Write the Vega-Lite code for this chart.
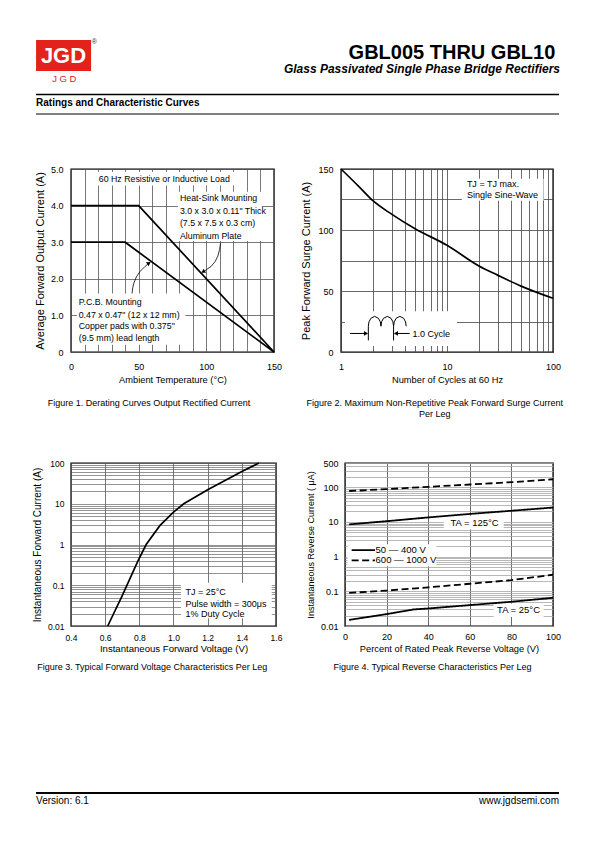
{
  "$schema": "https://vega.github.io/schema/vega-lite/v6.json",
  "background": "white",
  "padding": {"left": 31, "top": 36, "right": 0, "bottom": 0},
  "config": {
    "font": "Liberation Sans",
    "view": {"stroke": "black", "strokeWidth": 1.4},
    "axis": {
      "domain": false, "ticks": false, "tickSize": 0,
      "labelColor": "black", "titleColor": "black", "titleFontWeight": "normal",
      "labelFontSize": 9, "titleFontSize": 9.3,
      "gridColor": "#555555", "gridWidth": 0.8, "gridOpacity": 1,
      "labelFlush": false, "labelOverlap": false, "labelBound": false
    },
    "title": {"color": "black", "fontWeight": "normal", "fontSize": 9}
  },
  "spacing": 30,
  "vconcat": [
    {
      "width": 488, "height": 98,
      "view": {"stroke": null},
      "data": {"values": [{"part": "header"}]},
      "layer": [
        {"mark": {"type": "rect", "color": "#e3231b"}, "encoding": {
          "x": {"datum": 0.2, "type": "quantitative", "scale": {"domain": [0, 100], "range": [-36, 488]}, "axis": null},
          "x2": {"datum": 10.7},
          "y": {"datum": 4.1, "type": "quantitative", "scale": {"domain": [0, 100], "reverse": true}, "axis": null},
          "y2": {"datum": 35.7}}},
        {"data": {"values": [{"t": "JGD"}]}, "mark": {"type": "text", "color": "white", "fontSize": 22, "fontWeight": "bold", "align": "center", "baseline": "middle"}, "encoding": {
          "x": {"datum": 5.44, "type": "quantitative", "scale": {"domain": [0, 100], "range": [-36, 488]}, "axis": null},
          "y": {"datum": 20.4, "type": "quantitative", "scale": {"domain": [0, 100], "reverse": true}, "axis": null},
          "text": {"field": "t"}}},
        {"data": {"values": [{"t": "J   G   D"}]}, "mark": {"type": "text", "color": "#e3231b", "fontSize": 9.5, "align": "center", "baseline": "middle"}, "encoding": {
          "x": {"datum": 5.6, "type": "quantitative", "scale": {"domain": [0, 100], "range": [-36, 488]}, "axis": null},
          "y": {"datum": 43.5, "type": "quantitative", "scale": {"domain": [0, 100], "reverse": true}, "axis": null},
          "text": {"field": "t"}}},
        {"data": {"values": [{"t": "®"}]}, "mark": {"type": "text", "color": "#333333", "fontSize": 7, "align": "center", "baseline": "middle"}, "encoding": {
          "x": {"datum": 11.3, "type": "quantitative", "scale": {"domain": [0, 100], "range": [-36, 488]}, "axis": null},
          "y": {"datum": 6.1, "type": "quantitative", "scale": {"domain": [0, 100], "reverse": true}, "axis": null},
          "text": {"field": "t"}}},
        {"data": {"values": [{"t": "GBL005 THRU GBL10"}]}, "mark": {"type": "text", "color": "black", "fontSize": 20, "fontWeight": "bold", "align": "right", "baseline": "alphabetic"}, "encoding": {
          "x": {"datum": 99.3, "type": "quantitative", "scale": {"domain": [0, 100], "range": [-36, 488]}, "axis": null},
          "y": {"datum": 23.5, "type": "quantitative", "scale": {"domain": [0, 100], "reverse": true}, "axis": null},
          "text": {"field": "t"}}},
        {"data": {"values": [{"t": "Glass Passivated Single Phase Bridge Rectifiers"}]}, "mark": {"type": "text", "color": "black", "fontSize": 12, "fontWeight": "bold", "fontStyle": "italic", "align": "right", "baseline": "alphabetic"}, "encoding": {
          "x": {"datum": 100.2, "type": "quantitative", "scale": {"domain": [0, 100], "range": [-36, 488]}, "axis": null},
          "y": {"datum": 37.8, "type": "quantitative", "scale": {"domain": [0, 100], "reverse": true}, "axis": null},
          "text": {"field": "t"}}},
        {"mark": {"type": "rule", "color": "black", "strokeWidth": 1.5}, "encoding": {
          "x": {"datum": 0.2, "type": "quantitative", "scale": {"domain": [0, 100], "range": [-36, 488]}, "axis": null},
          "x2": {"datum": 100},
          "y": {"datum": 59.7, "type": "quantitative", "scale": {"domain": [0, 100], "reverse": true}, "axis": null}}},
        {"data": {"values": [{"t": "Ratings and Characteristic Curves"}]}, "mark": {"type": "text", "color": "black", "fontSize": 10, "fontWeight": "bold", "align": "left", "baseline": "middle"}, "encoding": {
          "x": {"datum": 0.2, "type": "quantitative", "scale": {"domain": [0, 100], "range": [-36, 488]}, "axis": null},
          "y": {"datum": 68.4, "type": "quantitative", "scale": {"domain": [0, 100], "reverse": true}, "axis": null},
          "text": {"field": "t"}}},
        {"mark": {"type": "rule", "color": "black", "strokeWidth": 1}, "encoding": {
          "x": {"datum": 0.2, "type": "quantitative", "scale": {"domain": [0, 100], "range": [-36, 488]}, "axis": null},
          "x2": {"datum": 100},
          "y": {"datum": 79.6, "type": "quantitative", "scale": {"domain": [0, 100], "reverse": true}, "axis": null}}}
      ]
    },
    {
      "spacing": 38,
      "vconcat": [
        {
          "spacing": 17,
          "hconcat": [
            {
              "width": 203, "height": 183,
              "title": {"text": "Figure 1. Derating Curves Output Rectified Current", "orient": "bottom", "anchor": "middle", "frame": "bounds", "offset": 15, "dx": -9},
              "encoding": {
                "x": {"field": "x", "type": "quantitative", "scale": {"domain": [0, 150], "nice": false, "zero": false},
                  "axis": {"title": "Ambient Temperature (°C)", "values": [0, 10, 20, 30, 40, 50, 60, 70, 80, 90, 100, 110, 120, 130, 140, 150], "labelExpr": "datum.value % 50 == 0 ? datum.label : ''", "labelPadding": 10, "titlePadding": 4}},
                "y": {"field": "y", "type": "quantitative", "scale": {"domain": [0, 5], "nice": false},
                  "axis": {"title": "Average Forward Output Current (A)", "values": [0, 1, 2, 3, 4, 5], "labelExpr": "datum.value == 0 ? '0' : format(datum.value, '.1f')", "labelPadding": 8, "titlePadding": 5, "titleFontSize": 11}}
              },
              "layer": [
                {"data": {"values": [
                  {"x": 19, "x2": 121, "y": 4.55, "y2": 4.92},
                  {"x": 79, "x2": 141, "y": 3.03, "y2": 4.38},
                  {"x": 4.4, "x2": 84.5, "y": 0.2, "y2": 1.6}]},
                  "mark": {"type": "rect", "color": "white"},
                  "encoding": {"x2": {"field": "x2"}, "y2": {"field": "y2"}}},
                {"data": {"values": [
                  {"s": "Heat-Sink", "x": 0, "y": 4.0}, {"s": "Heat-Sink", "x": 50, "y": 4.0}, {"s": "Heat-Sink", "x": 150, "y": 0},
                  {"s": "P.C.B.", "x": 0, "y": 3.0}, {"s": "P.C.B.", "x": 40, "y": 3.0}, {"s": "P.C.B.", "x": 150, "y": 0}]},
                  "mark": {"type": "line", "color": "black", "strokeWidth": 1.7},
                  "encoding": {"detail": {"field": "s"}}},
                {"data": {"values": [
                  {"s": "hs", "i": 0, "x": 110.5, "y": 2.97}, {"s": "hs", "i": 1, "x": 109.8, "y": 2.8}, {"s": "hs", "i": 2, "x": 108.5, "y": 2.62},
                  {"s": "hs", "i": 3, "x": 106.5, "y": 2.47}, {"s": "hs", "i": 4, "x": 103.5, "y": 2.34}, {"s": "hs", "i": 5, "x": 100.5, "y": 2.26},
                  {"s": "hs", "i": 6, "x": 98.5, "y": 2.21},
                  {"s": "pcb", "i": 0, "x": 45.1, "y": 1.6}, {"s": "pcb", "i": 1, "x": 45.6, "y": 1.75}, {"s": "pcb", "i": 2, "x": 46.6, "y": 1.9},
                  {"s": "pcb", "i": 3, "x": 48.3, "y": 2.05}, {"s": "pcb", "i": 4, "x": 51, "y": 2.2}, {"s": "pcb", "i": 5, "x": 54.5, "y": 2.33},
                  {"s": "pcb", "i": 6, "x": 56.8, "y": 2.4}]},
                  "mark": {"type": "line", "color": "black", "strokeWidth": 0.8},
                  "encoding": {"detail": {"field": "s"}, "order": {"field": "i"}}},
                {"data": {"values": [{"x": 97.6, "y": 2.19, "a": 240}, {"x": 57.6, "y": 2.43, "a": 55}]},
                  "mark": {"type": "point", "shape": "triangle-up", "filled": true, "color": "black", "size": 22, "opacity": 1},
                  "encoding": {"angle": {"field": "a", "type": "quantitative", "scale": null}}},
                {"data": {"values": [
                  {"x": 20.5, "y": 4.73, "t": "60 Hz Resistive or Inductive Load"},
                  {"x": 80.5, "y": 4.2, "t": "Heat-Sink Mounting"},
                  {"x": 80.5, "y": 3.84, "t": "3.0 x 3.0 x 0.11\" Thick"},
                  {"x": 80.5, "y": 3.52, "t": "(7.5 x 7.5 x 0.3 cm)"},
                  {"x": 80.5, "y": 3.17, "t": "Aluminum Plate"},
                  {"x": 5.7, "y": 1.37, "t": "P.C.B. Mounting"},
                  {"x": 5.7, "y": 1.02, "t": "0.47 x 0.47\" (12 x 12 mm)"},
                  {"x": 5.7, "y": 0.7, "t": "Copper pads with 0.375\""},
                  {"x": 5.7, "y": 0.37, "t": "(9.5 mm) lead length"}]},
                  "mark": {"type": "text", "align": "left", "baseline": "middle", "fontSize": 8.8, "color": "black"},
                  "encoding": {"text": {"field": "t"}}}
              ]
            },
            {
              "width": 212, "height": 183,
              "title": {"text": ["Figure 2. Maximum Non-Repetitive Peak Forward Surge Current", "Per Leg"], "orient": "bottom", "anchor": "middle", "frame": "bounds", "offset": 15, "dx": 4},
              "encoding": {
                "x": {"field": "x", "type": "quantitative", "scale": {"type": "log", "domain": [1, 100]},
                  "axis": {"title": "Number of Cycles at 60 Hz", "values": [1, 2, 3, 4, 5, 6, 7, 8, 9, 10, 20, 30, 40, 50, 60, 70, 80, 90, 100], "labelExpr": "datum.value == 1 || datum.value == 10 || datum.value == 100 ? format(datum.value, 'd') : ''", "labelPadding": 10, "titlePadding": 4, "gridColor": "#444444"}},
                "y": {"field": "y", "type": "quantitative", "scale": {"domain": [0, 150], "nice": false},
                  "axis": {"title": "Peak Forward Surge Current (A)", "values": [0, 25, 50, 75, 100, 125, 150], "labelExpr": "datum.value % 50 == 0 ? format(datum.value, 'd') : ''", "labelPadding": 8, "titlePadding": 6, "titleFontSize": 11, "gridColor": "#444444"}}
              },
              "layer": [
                {"data": {"values": [
                  {"x": 13.8, "x2": 81.5, "y": 124, "y2": 142},
                  {"x": 1.09, "x2": 12.4, "y": 5, "y2": 33.3}]},
                  "mark": {"type": "rect", "color": "white"},
                  "encoding": {"x2": {"field": "x2"}, "y2": {"field": "y2"}}},
                {"data": {"values": [
                  {"x": 1, "y": 150}, {"x": 1.5, "y": 135}, {"x": 2, "y": 124}, {"x": 3, "y": 113}, {"x": 5, "y": 101},
                  {"x": 10, "y": 87.5}, {"x": 20, "y": 70.5}, {"x": 30, "y": 63}, {"x": 50, "y": 54}, {"x": 100, "y": 44}]},
                  "mark": {"type": "line", "color": "black", "strokeWidth": 1.7, "interpolate": "monotone"}},
                {"data": {"values": [
                  {"i": 0, "x": 1.811, "y": 21.1}, {"i": 1, "x": 1.836, "y": 24.7}, {"i": 2, "x": 1.912, "y": 27.6}, {"i": 3, "x": 2.077, "y": 29.2},
                  {"i": 4, "x": 2.255, "y": 27.6}, {"i": 5, "x": 2.35, "y": 24.7}, {"i": 6, "x": 2.382, "y": 21.1}, {"i": 7, "x": 2.415, "y": 24.7},
                  {"i": 8, "x": 2.516, "y": 27.6}, {"i": 9, "x": 2.732, "y": 29.2}, {"i": 10, "x": 2.966, "y": 27.6}, {"i": 11, "x": 3.09, "y": 24.7},
                  {"i": 12, "x": 3.133, "y": 21.1}, {"i": 13, "x": 3.177, "y": 24.7}, {"i": 14, "x": 3.311, "y": 27.6}, {"i": 15, "x": 3.594, "y": 29.2},
                  {"i": 16, "x": 3.902, "y": 27.6}, {"i": 17, "x": 4.065, "y": 24.7}, {"i": 18, "x": 4.121, "y": 21.1}]},
                  "mark": {"type": "line", "color": "black", "strokeWidth": 1},
                  "encoding": {"order": {"field": "i"}}},
                {"data": {"values": [
                  {"x": 1.811, "x2": 1.811, "y": 21.1, "y2": 9.5},
                  {"x": 3.133, "x2": 3.133, "y": 21.1, "y2": 9.5},
                  {"x": 1.216, "x2": 1.74, "y": 15.2, "y2": 15.2},
                  {"x": 3.25, "x2": 4.45, "y": 15.2, "y2": 15.2}]},
                  "mark": {"type": "rule", "color": "black", "strokeWidth": 1},
                  "encoding": {"x2": {"field": "x2"}, "y2": {"field": "y2"}}},
                {"data": {"values": [{"x": 1.72, "y": 15.2, "a": 90}, {"x": 3.3, "y": 15.2, "a": 270}]},
                  "mark": {"type": "point", "shape": "triangle-up", "filled": true, "color": "black", "size": 22, "opacity": 1},
                  "encoding": {"angle": {"field": "a", "type": "quantitative", "scale": null}}},
                {"data": {"values": [
                  {"x": 15.4, "y": 137.6, "t": "TJ = TJ max."},
                  {"x": 15.4, "y": 128.7, "t": "Single Sine-Wave"},
                  {"x": 4.72, "y": 14.4, "t": "1.0 Cycle"}]},
                  "mark": {"type": "text", "align": "left", "baseline": "middle", "fontSize": 9, "color": "black"},
                  "encoding": {"text": {"field": "t"}}}
              ]
            }
          ]
        },
        {
          "spacing": 22,
          "hconcat": [
            {
              "width": 205, "height": 163,
              "title": {"text": "Figure 3. Typical Forward Voltage Characteristics Per Leg", "orient": "bottom", "anchor": "middle", "frame": "bounds", "offset": 10, "dx": -5},
              "encoding": {
                "x": {"field": "x", "type": "quantitative", "scale": {"domain": [0.4, 1.6], "nice": false, "zero": false},
                  "axis": {"title": "Instantaneous Forward Voltage (V)", "values": [0.4, 0.6, 0.8, 1, 1.2, 1.4, 1.6], "labelExpr": "format(datum.value, '.1f')", "labelPadding": 7, "titlePadding": 2, "labelFontSize": 8.5, "titleFontSize": 9.6, "gridColor": "#555555"}},
                "y": {"field": "y", "type": "quantitative", "scale": {"type": "log", "domain": [0.01, 100]},
                  "axis": {"title": "Instantaneous Forward Current (A)", "values": [0.01, 0.02, 0.03, 0.04, 0.05, 0.06, 0.07, 0.08, 0.09, 0.1, 0.2, 0.3, 0.4, 0.5, 0.6, 0.7, 0.8, 0.9, 1, 2, 3, 4, 5, 6, 7, 8, 9, 10, 20, 30, 40, 50, 60, 70, 80, 90, 100], "labelExpr": "datum.value == 0.01 || datum.value == 0.1 || datum.value == 1 || datum.value == 10 || datum.value == 100 ? format(datum.value, '~g') : ''", "labelPadding": 7, "titlePadding": 5, "labelFontSize": 8.5, "titleFontSize": 10, "gridColor": "#666666", "gridWidth": 0.7}}
              },
              "layer": [
                {"data": {"values": [{"x": 1.044, "x2": 1.575, "y": 0.0156, "y2": 0.115}]},
                  "mark": {"type": "rect", "color": "white"},
                  "encoding": {"x2": {"field": "x2"}, "y2": {"field": "y2"}}},
                {"data": {"values": [
                  {"x": 0.615, "y": 0.01}, {"x": 0.7, "y": 0.056}, {"x": 0.79, "y": 0.38}, {"x": 0.84, "y": 1.0}, {"x": 0.92, "y": 2.9},
                  {"x": 1.0, "y": 6.2}, {"x": 1.06, "y": 10}, {"x": 1.2, "y": 22}, {"x": 1.4, "y": 62}, {"x": 1.5, "y": 100}]},
                  "mark": {"type": "line", "color": "black", "strokeWidth": 1.7}},
                {"data": {"values": [
                  {"x": 1.07, "y": 0.0678, "t": "TJ = 25°C"},
                  {"x": 1.07, "y": 0.0344, "t": "Pulse width = 300μs"},
                  {"x": 1.07, "y": 0.0196, "t": "1% Duty Cycle"}]},
                  "mark": {"type": "text", "align": "left", "baseline": "middle", "fontSize": 9, "color": "black"},
                  "encoding": {"text": {"field": "t"}}}
              ]
            },
            {
              "width": 208, "height": 163,
              "title": {"text": "Figure 4. Typical Reverse Characteristics Per Leg", "orient": "bottom", "anchor": "middle", "frame": "bounds", "offset": 10, "dx": -1},
              "encoding": {
                "x": {"field": "x", "type": "quantitative", "scale": {"domain": [0, 100], "nice": false},
                  "axis": {"title": "Percent of Rated Peak Reverse Voltage (V)", "values": [0, 20, 40, 60, 80, 100], "labelPadding": 6, "titlePadding": 3, "gridColor": "#444444"}},
                "y": {"field": "y", "type": "quantitative", "scale": {"type": "log", "domain": [0.01, 500]},
                  "axis": {"title": "Instantaneous Reverse Current ( μA)", "values": [0.01, 0.02, 0.03, 0.04, 0.05, 0.06, 0.07, 0.08, 0.09, 0.1, 0.2, 0.3, 0.4, 0.5, 0.6, 0.7, 0.8, 0.9, 1, 2, 3, 4, 5, 6, 7, 8, 9, 10, 20, 30, 40, 50, 60, 70, 80, 90, 100, 200, 300, 400, 500], "labelExpr": "datum.value == 0.01 || datum.value == 0.1 || datum.value == 1 || datum.value == 10 || datum.value == 100 || datum.value == 500 ? format(datum.value, '~g') : ''", "labelPadding": 7, "titlePadding": 5, "titleFontSize": 9, "gridColor": "#a6a6a6", "gridWidth": 0.8}}
              },
              "layer": [
                {"data": {"values": [
                  {"x": 47.5, "x2": 76.3, "y": 6.1, "y2": 15},
                  {"x": 71.5, "x2": 95.5, "y": 0.0183, "y2": 0.0447},
                  {"x": 1.2, "x2": 43.9, "y": 0.524, "y2": 2.29}]},
                  "mark": {"type": "rect", "color": "white"},
                  "encoding": {"x2": {"field": "x2"}, "y2": {"field": "y2"}}},
                {"data": {"values": [
                  {"v": "600 — 1000 V", "t": "125", "x": 2, "y": 78}, {"v": "600 — 1000 V", "t": "125", "x": 20, "y": 88},
                  {"v": "600 — 1000 V", "t": "125", "x": 40, "y": 103}, {"v": "600 — 1000 V", "t": "125", "x": 60, "y": 120},
                  {"v": "600 — 1000 V", "t": "125", "x": 80, "y": 140}, {"v": "600 — 1000 V", "t": "125", "x": 100, "y": 170},
                  {"v": "50 — 400 V", "t": "125", "x": 2, "y": 8.5}, {"v": "50 — 400 V", "t": "125", "x": 20, "y": 10.5},
                  {"v": "50 — 400 V", "t": "125", "x": 40, "y": 13.5}, {"v": "50 — 400 V", "t": "125", "x": 60, "y": 17},
                  {"v": "50 — 400 V", "t": "125", "x": 80, "y": 21}, {"v": "50 — 400 V", "t": "125", "x": 100, "y": 26},
                  {"v": "600 — 1000 V", "t": "25", "x": 2, "y": 0.09}, {"v": "600 — 1000 V", "t": "25", "x": 20, "y": 0.105},
                  {"v": "600 — 1000 V", "t": "25", "x": 40, "y": 0.13}, {"v": "600 — 1000 V", "t": "25", "x": 60, "y": 0.165},
                  {"v": "600 — 1000 V", "t": "25", "x": 80, "y": 0.21}, {"v": "600 — 1000 V", "t": "25", "x": 100, "y": 0.3},
                  {"v": "50 — 400 V", "t": "25", "x": 2, "y": 0.015}, {"v": "50 — 400 V", "t": "25", "x": 20, "y": 0.022},
                  {"v": "50 — 400 V", "t": "25", "x": 33, "y": 0.03}, {"v": "50 — 400 V", "t": "25", "x": 40, "y": 0.032},
                  {"v": "50 — 400 V", "t": "25", "x": 60, "y": 0.04}, {"v": "50 — 400 V", "t": "25", "x": 80, "y": 0.05},
                  {"v": "50 — 400 V", "t": "25", "x": 100, "y": 0.065}]},
                  "mark": {"type": "line", "color": "black", "strokeWidth": 1.8},
                  "encoding": {
                    "detail": {"field": "t"},
                    "strokeDash": {"field": "v", "type": "nominal", "scale": {"domain": ["50 — 400 V", "600 — 1000 V"], "range": [[1, 0], [7, 3.5]]}, "legend": null}
                  }},
                {"data": {"values": [
                  {"v": "50 — 400 V", "x": 3.2, "x2": 14.4, "y": 1.53},
                  {"v": "600 — 1000 V", "x": 3.2, "x2": 14.4, "y": 0.78}]},
                  "mark": {"type": "rule", "color": "black", "strokeWidth": 1.8},
                  "encoding": {
                    "x2": {"field": "x2"},
                    "strokeDash": {"field": "v", "type": "nominal", "legend": null}
                  }},
                {"data": {"values": [
                  {"v": "50 — 400 V", "x": 14.7, "y": 1.53},
                  {"v": "600 — 1000 V", "x": 14.7, "y": 0.78}]},
                  "mark": {"type": "text", "align": "left", "baseline": "middle", "fontSize": 9.5, "color": "black"},
                  "encoding": {"text": {"field": "v"}}},
                {"data": {"values": [
                  {"x": 50.7, "y": 9.55, "t": "TA = 125°C"},
                  {"x": 73.1, "y": 0.0287, "t": "TA = 25°C"}]},
                  "mark": {"type": "text", "align": "left", "baseline": "middle", "fontSize": 9.5, "color": "black"},
                  "encoding": {"text": {"field": "t"}}}
              ]
            }
          ]
        }
      ]
    },
    {
      "width": 488, "height": 103,
      "view": {"stroke": null},
      "data": {"values": [{"part": "footer"}]},
      "layer": [
        {"mark": {"type": "rule", "color": "black", "strokeWidth": 2}, "encoding": {
          "x": {"datum": 0.2, "type": "quantitative", "scale": {"domain": [0, 100], "range": [-36, 488]}, "axis": null},
          "x2": {"datum": 100},
          "y": {"datum": 87.4, "type": "quantitative", "scale": {"domain": [0, 100], "reverse": true}, "axis": null}}},
        {"data": {"values": [{"t": "Version: 6.1"}]}, "mark": {"type": "text", "color": "black", "fontSize": 10, "align": "left", "baseline": "middle"}, "encoding": {
          "x": {"datum": 0.2, "type": "quantitative", "scale": {"domain": [0, 100], "range": [-36, 488]}, "axis": null},
          "y": {"datum": 95.2, "type": "quantitative", "scale": {"domain": [0, 100], "reverse": true}, "axis": null},
          "text": {"field": "t"}}},
        {"data": {"values": [{"t": "www.jgdsemi.com"}]}, "mark": {"type": "text", "color": "black", "fontSize": 10, "align": "right", "baseline": "middle"}, "encoding": {
          "x": {"datum": 100, "type": "quantitative", "scale": {"domain": [0, 100], "range": [-36, 488]}, "axis": null},
          "y": {"datum": 95.2, "type": "quantitative", "scale": {"domain": [0, 100], "reverse": true}, "axis": null},
          "text": {"field": "t"}}}
      ]
    }
  ]
}
